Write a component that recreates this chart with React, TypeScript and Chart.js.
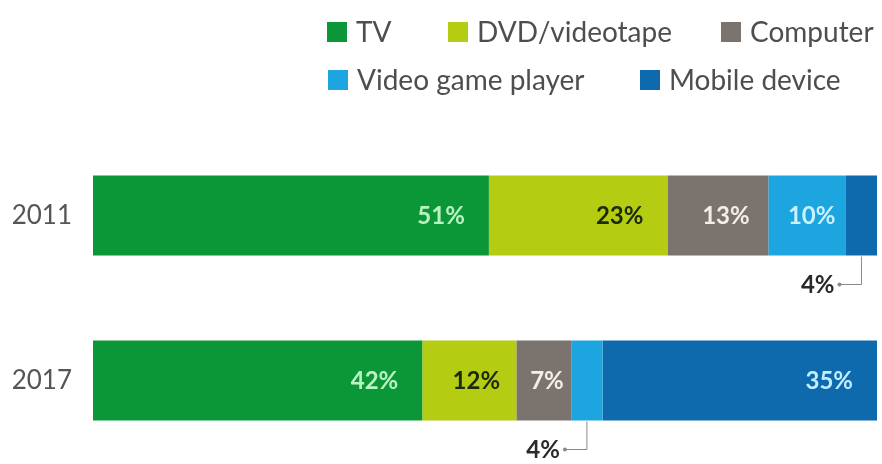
import React, { useEffect, useRef } from "react";
import { Chart, registerables } from "chart.js";

Chart.register(...registerables);

const categories = ["2011", "2017"];
const seriesNames = ["TV", "DVD/videotape", "Computer", "Video game player", "Mobile device"];
const values2011 = [51, 23, 13, 10, 4];
const values2017 = [42, 12, 7, 4, 35];
const seriesColors = ["#0b9738", "#b4cd12", "#7b736d", "#1ca5df", "#0e69ad"];
const labelColors = ["#b9f3c2", "#1c2a08", "#f2eeea", "#c9f1ff", "#bfeeff"];

const FONT = 'Lato, "Open Sans", "DejaVu Sans", sans-serif';

const sum = (a: number[]) => a.reduce((s, v) => s + v, 0);

export default function App() {
  const canvasRef = useRef<HTMLCanvasElement | null>(null);

  useEffect(() => {
    if (!canvasRef.current) return;
    const yearValues = [values2011, values2017];
    const datasets: any[] = [];
    yearValues.forEach((vals, yi) => {
      seriesNames.forEach((name, si) => {
        datasets.push({
          label: name,
          data: categories.map((_, ci) => (ci === yi ? vals[si] : null)),
          backgroundColor: seriesColors[si],
          borderWidth: 0,
          xAxisID: yi === 0 ? "x" : "x2",
          barPercentage: 0.485,
          categoryPercentage: 1,
          seriesIndex: si,
        });
      });
    });

    const legendPlugin = {
      id: "customLegend",
      afterDraw(chart: any) {
        const ctx = chart.ctx;
        const rows = [
          { y: 32, items: [0, 1, 2], xs: [327, 448, 721] },
          { y: 80, items: [3, 4], xs: [328, 640] },
        ];
        ctx.save();
        ctx.font = `28px ${FONT}`;
        ctx.textBaseline = "middle";
        ctx.textAlign = "left";
        rows.forEach((row) => {
          row.items.forEach((si, k) => {
            const x = row.xs[k];
            ctx.fillStyle = seriesColors[si];
            ctx.fillRect(x, row.y - 10, 20, 20);
            ctx.fillStyle = "#4e4e4e";
            ctx.fillText(seriesNames[si], x + 29, row.y + 1);
          });
        });
        ctx.restore();
      },
    };

    const labelPlugin = {
      id: "barLabels",
      afterDatasetsDraw(chart: any) {
        const ctx = chart.ctx;
        ctx.save();
        ctx.font = `bold 24px ${FONT}`;
        ctx.textBaseline = "middle";
        chart.data.datasets.forEach((ds: any, di: number) => {
          const meta = chart.getDatasetMeta(di);
          meta.data.forEach((el: any, ci: number) => {
            const v = ds.data[ci];
            if (v == null) return;
            const p = el.getProps(["x", "y", "base", "height"], true);
            const left = Math.min(p.x, p.base);
            const right = Math.max(p.x, p.base);
            const w = right - left;
            const text = `${v}%`;
            const tw = ctx.measureText(text).width;
            if (w >= tw + 12) {
              const pad = Math.max(6, Math.min(24, (w - tw) * 0.35));
              ctx.textAlign = "right";
              ctx.fillStyle = labelColors[ds.seriesIndex];
              ctx.fillText(text, right - pad, p.y + 1);
            } else {
              const cx = (left + right) / 2;
              const bottom = p.y + p.height / 2;
              const ly = bottom + 29;
              ctx.strokeStyle = "#8a8a8a";
              ctx.lineWidth = 1;
              ctx.beginPath();
              ctx.moveTo(cx, bottom + 1);
              ctx.lineTo(cx, ly);
              ctx.lineTo(cx - 21, ly);
              ctx.stroke();
              ctx.fillStyle = "#8a8a8a";
              ctx.beginPath();
              ctx.arc(cx - 22, ly, 2, 0, Math.PI * 2);
              ctx.fill();
              ctx.textAlign = "right";
              ctx.fillStyle = "#2a2a2a";
              ctx.fillText(text, cx - 27, ly + 1);
            }
          });
        });
        ctx.restore();
      },
    };

    const chart = new Chart(canvasRef.current, {
      type: "bar",
      data: { labels: categories, datasets },
      options: {
        indexAxis: "y",
        animation: false,
        responsive: false,
        maintainAspectRatio: false,
        layout: { padding: { top: 133, bottom: 1, left: 0, right: 5 } },
        plugins: {
          legend: { display: false },
          tooltip: { enabled: false },
        },
        scales: {
          y: {
            type: "category",
            stacked: true,
            grid: { display: false, drawTicks: false },
            border: { display: false },
            ticks: {
              padding: 21,
              color: "#555555",
              font: { family: FONT, size: 26 },
            },
            afterFit(scale: any) {
              scale.width = 93;
              scale.paddingTop = 0;
              scale.paddingBottom = 0;
            },
          },
          x: {
            type: "linear",
            axis: "x",
            stacked: true,
            display: false,
            min: 0,
            max: sum(values2011),
          },
          x2: {
            type: "linear",
            axis: "x",
            position: "bottom",
            stacked: true,
            display: false,
            min: 0,
            max: sum(values2017),
          },
        },
      } as any,
      plugins: [legendPlugin, labelPlugin],
    });
    return () => chart.destroy();
  }, []);

  return (
    <div style={{ position: "absolute", left: 0, top: 0, width: 882, height: 464, background: "#ffffff" }}>
      <canvas ref={canvasRef} width={882} height={464} style={{ display: "block" }} />
    </div>
  );
}
